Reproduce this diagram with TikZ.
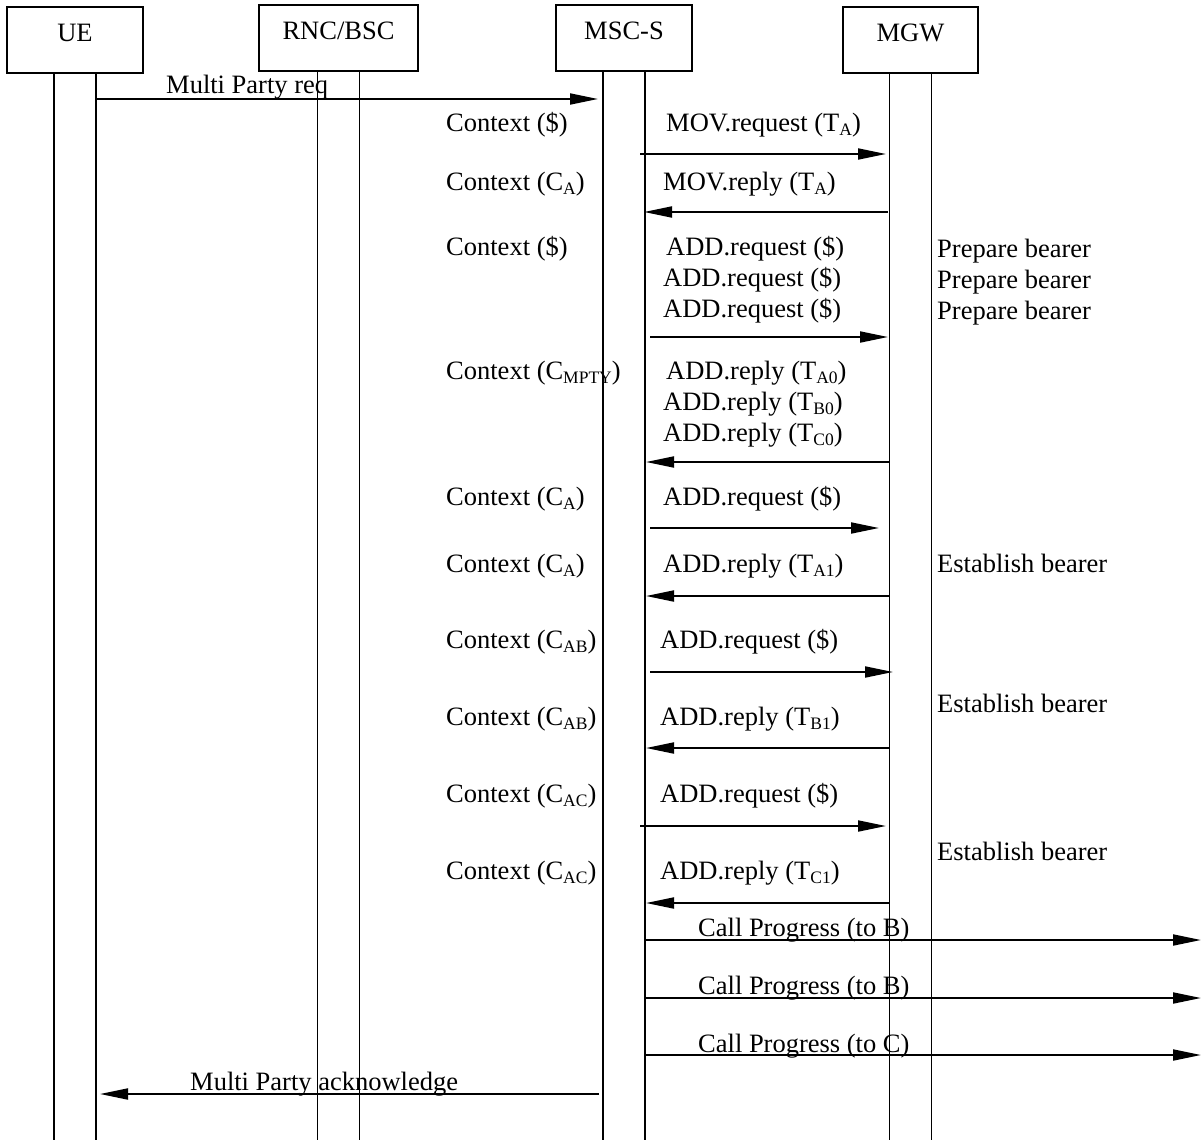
\documentclass[tikz,border=0pt]{standalone}
\usepackage{fontspec}
\setmainfont{Liberation Serif}
\usetikzlibrary{arrows.meta, positioning}
\newcommand{\lo}[1]{\raisebox{-4pt}{\fontsize{17.5}{17.5}\selectfont #1}}

\begin{document}
\begin{tikzpicture}[x=1pt, y=-1pt, font=\fontsize{26.5}{31}\selectfont,
	ent/.style={draw, line width=1.6pt, minimum width=#1, minimum height=66pt,
		text height=18pt, text depth=14pt, inner sep=0pt},
	life/.style={line width=1.9pt},
	msg/.style={line width=1.9pt, -{Triangle[length=28pt, width=11pt]}},
	lbl/.style={anchor=base west, inner sep=0pt}]
	\useasboundingbox (0,0) rectangle (1202,1140);
	\coordinate (bot) at (0,1140);
	\foreach \n/\x/\y/\w/\t in {
		ue/75/40/136pt/UE,
		rnc/338.5/38/159pt/{RNC/BSC},
		msc/624/38/136pt/{MSC-S},
		mgw/910.5/40/135pt/MGW}{
		\node[ent=\w] (\n) at (\x,\y) {\t};
		\coordinate (\n L) at ([xshift=-21pt]\n.south);
		\coordinate (\n R) at ([xshift=21pt]\n.south);
		\draw[life] (\n L) -- (\n L |- bot);
		\draw[life] (\n R) -- (\n R |- bot);
	}
	\foreach \a/\b/\y [count=\i] in {
		95/598/99, 640/886/154, 888/644/212, 650/888/337, 889/646/462,
		650/879/528, 889/646/596, 650/893/672, 889/646/748, 640/886/826,
		889/646/903, 644/1201/940, 644/1201/998, 644/1201/1055, 599/100/1094}{
		\coordinate (s\i) at (\a,\y);
		\coordinate (e\i) at (\b,\y);
		\draw[msg] (s\i) -- (e\i);
	}
	\foreach \y/\t [count=\i] in {
		131/{Context (\$)},
		190/{Context (C\lo{A})},
		255/{Context (\$)},
		379/{Context (C\lo{MPTY})},
		505/{Context (C\lo{A})},
		572/{Context (C\lo{A})},
		648/{Context (C\lo{AB})},
		725/{Context (C\lo{AB})},
		802/{Context (C\lo{AC})},
		879/{Context (C\lo{AC})}}{
		\node[lbl] (ctx\i) at (446,\y) {\t};
	}
	\foreach \x/\y/\t [count=\i] in {
		166/93/{Multi Party req},
		666/131/{MOV.request (T\lo{A})},
		663/190/{MOV.reply (T\lo{A})},
		666/255/{ADD.request (\$)},
		663/286/{ADD.request (\$)},
		663/317/{ADD.request (\$)},
		666/379/{ADD.reply (T\lo{A0})},
		663/410/{ADD.reply (T\lo{B0})},
		663/441/{ADD.reply (T\lo{C0})},
		663/505/{ADD.request (\$)},
		663/572/{ADD.reply (T\lo{A1})},
		660/648/{ADD.request (\$)},
		660/725/{ADD.reply (T\lo{B1})},
		660/802/{ADD.request (\$)},
		660/879/{ADD.reply (T\lo{C1})},
		698/936/{Call Progress (to B)},
		698/994/{Call Progress (to B)},
		698/1052/{Call Progress (to C)},
		190/1090/{Multi Party acknowledge}}{
		\node[lbl] (msg\i) at (\x,\y) {\t};
	}
	\foreach \y/\t [count=\i] in {
		257/{Prepare bearer}, 288/{Prepare bearer}, 319/{Prepare bearer},
		572/{Establish bearer}, 712/{Establish bearer}, 860/{Establish bearer}}{
		\node[lbl] (brr\i) at (937,\y) {\t};
	}
\end{tikzpicture}
\end{document}
